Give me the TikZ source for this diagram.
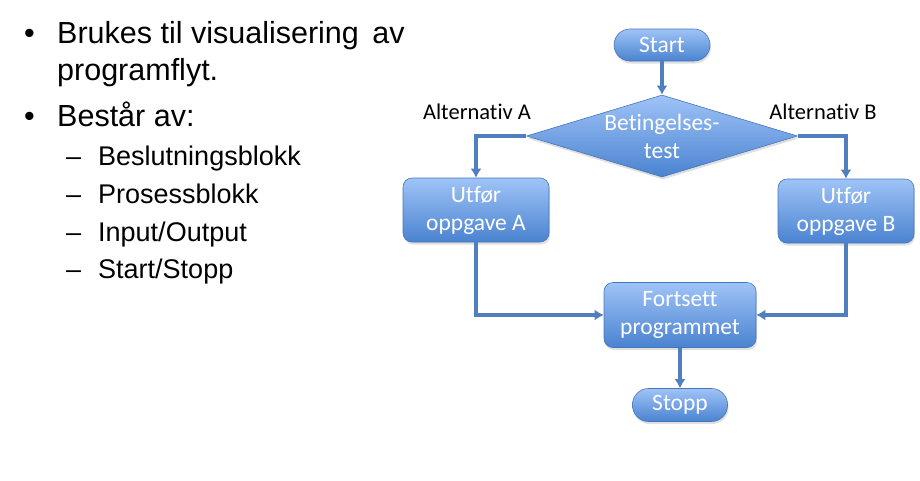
\documentclass[tikz,border=0pt]{standalone}
\usepackage{fontspec}
\setmainfont{Liberation Sans}
\newfontfamily\flowfont[Ligatures=NoCommon]{Carlito}
\usetikzlibrary{shapes.geometric,shadows,arrows.meta}
\definecolor{blokktop}{HTML}{9FC3F7}
\definecolor{blokkbunn}{HTML}{4A83D0}
\definecolor{blokkkant}{HTML}{4676BA}
\definecolor{flytlinje}{HTML}{4F7FBF}
\tikzset{
  blokk/.style={draw=blokkkant, line width=0.6pt, top color=blokktop, bottom color=blokkbunn,
    text=white, font=\flowfont\fontsize{23.5}{28}\selectfont, align=center, inner sep=0pt,
    drop shadow={opacity=0.25, shadow xshift=1pt, shadow yshift=-2.5pt}},
  prosess/.style={blokk, rectangle, rounded corners=9pt},
  endepunkt/.style={blokk, rectangle, rounded corners=16pt},
  beslutning/.style={blokk, diamond},
  blokktekst/.style={text=white, font=\flowfont\fontsize{23.5}{28}\selectfont, align=center, inner sep=0pt},
  flyt/.style={draw=flytlinje, line width=3.3pt, -{Latex[length=9pt,width=11pt]}},
  alt/.style={font=\flowfont\fontsize{22.5}{26}\selectfont},
  punkt/.style={anchor=base west, font=\fontsize{30.5}{36}\selectfont, inner sep=0pt},
  underpunkt/.style={anchor=base west, font=\fontsize{27}{32}\selectfont, inner sep=0pt}
}
\begin{document}
\begin{tikzpicture}[x=1pt,y=-1pt]
    \useasboundingbox (0,0) rectangle (920,480);
    % tekst til venstre
    \node[punkt] (b1) at (24,43) {•};
    \node[punkt] (t1) at (57,43) {Brukes til visualisering\hspace{5pt} av};
    \node[punkt] (t2) at (57,80) {programflyt.};
    \node[punkt] (b2) at (24,126) {•};
    \node[punkt] (t3) at (57,126) {Består av:};
    \node[underpunkt] (d1) at (66,165) {–};
    \node[underpunkt] (s1) at (98,165) {Beslutningsblokk};
    \node[underpunkt] (d2) at (66,203) {–};
    \node[underpunkt] (s2) at (98,203) {Prosessblokk};
    \node[underpunkt] (d3) at (66,241) {–};
    \node[underpunkt] (s3) at (98,241) {Input/Output};
    \node[underpunkt] (d4) at (66,278) {–};
    \node[underpunkt] (s4) at (98,278) {Start/Stopp};
    % flytskjema
    \node[endepunkt, minimum width=96pt, minimum height=32pt] (start) at (662,45) {Start};
    \node[beslutning, minimum width=271pt, minimum height=82pt] (test) at (662,136) {};
    \node[blokktekst] (testtekst) at (test) {Betingelses-\\test};
    \node[prosess, minimum width=146pt, minimum height=64pt] (oppgA) at (476,210) {Utfør\\oppgave A};
    \node[prosess, minimum width=136pt, minimum height=64pt] (oppgB) at (846,211) {Utfør\\oppgave B};
    \node[prosess, minimum width=152pt, minimum height=65pt] (fortsett) at (680,315) {Fortsett\\programmet};
    \node[endepunkt, minimum width=95pt, minimum height=33pt] (stopp) at (680,405) {Stopp};
    \node[alt] (altA) at (477,112) {Alternativ A};
    \node[alt] (altB) at (823,112) {Alternativ B};
    \draw[flyt] (start) -- (test);
    \draw[flyt] (test.west) -| (oppgA.north);
    \draw[flyt] (test.east) -| (oppgB.north);
    \draw[flyt] (oppgA.south) |- (fortsett.west);
    \draw[flyt] (oppgB.south) |- (fortsett.east);
    \draw[flyt] (fortsett) -- (stopp);
\end{tikzpicture}
\end{document}
